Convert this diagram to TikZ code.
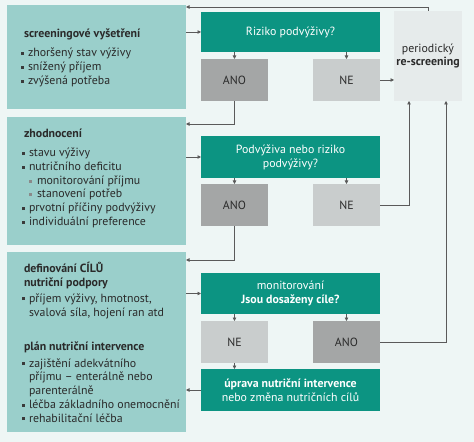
\documentclass[tikz,border=0pt]{standalone}
\usepackage{fontspec}
\setmainfont{PT Sans}
\usetikzlibrary{arrows.meta}
\definecolor{bgc}{HTML}{EEF6F5}
\definecolor{lteal}{HTML}{9ACFCB}
\definecolor{dteal}{HTML}{0C9482}
\definecolor{anoc}{HTML}{A4A6A6}
\definecolor{nec}{HTML}{C9CDCD}
\definecolor{resc}{HTML}{E6EBEB}
\definecolor{txtc}{HTML}{2A2A2A}
\definecolor{linec}{HTML}{5A5A5A}
\definecolor{bulc}{HTML}{3A3A3A}
\definecolor{sbulc}{HTML}{8A8A8A}
\newcommand{\bul}{\makebox[7bp][l]{\textcolor{bulc}{\rule[0.15em]{2.8bp}{2.8bp}}}}
\newcommand{\sbul}{\hspace*{7bp}\makebox[8bp][l]{\textcolor{sbulc}{\rule[0.15em]{2.8bp}{2.8bp}}}}
\newcommand{\cnt}{\hspace*{7bp}}
\newcommand{\fs}{\fontsize{11.9}{14}\selectfont}
\tikzset{
  every node/.style={inner sep=0pt, outer sep=0pt},
  leftbox/.style={fill=lteal, minimum width=179bp},
  tealbox/.style={fill=dteal, minimum width=179bp, text=white, align=center, font=\fs},
  anobox/.style={fill=anoc, minimum width=67bp, minimum height=42bp, text=txtc, font=\fs},
  nebox/.style={fill=nec, minimum width=67bp, minimum height=42bp, text=txtc, font=\fs},
  ltxt/.style={anchor=base west, text=txtc, font=\fs},
  lhead/.style={ltxt, font=\fs\bfseries},
  arr/.style={draw=linec, line width=0.7pt, -{Triangle[length=3.5bp,width=3.5bp]}},
}
\begin{document}
\begin{tikzpicture}[x=1bp,y=-1bp]
\fill[bgc] (0,0) rectangle (474,442);
\useasboundingbox (0,0) rectangle (474,442);
% left boxes
\node[leftbox, minimum height=104bp] (b1) at (96.5,57) {};
\node[leftbox, minimum height=128bp] (b2) at (96.5,181) {};
\node[leftbox, minimum height=180bp] (b3) at (96.5,342) {};
% box 1 text
\node[lhead] (h1) at (24,38) {screeningové vyšetření};
\node[ltxt] (l11) at (21,57) {\bul zhoršený stav výživy};
\node[ltxt] (l12) at (21,71) {\bul snížený příjem};
\node[ltxt] (l13) at (21,85) {\bul zvýšená potřeba};
% box 2 text
\node[lhead] (h2) at (24,138) {zhodnocení};
\node[ltxt] (l21) at (22,157) {\bul stavu výživy};
\node[ltxt] (l22) at (22,170.5) {\bul nutričního deficitu};
\node[ltxt] (l23) at (22,184.5) {\sbul monitorování příjmu};
\node[ltxt] (l24) at (22,198) {\sbul stanovení potřeb};
\node[ltxt] (l25) at (22,212) {\bul prvotní příčiny podvýživy};
\node[ltxt] (l26) at (22,226) {\bul individuální preference};
% box 3 text
\node[lhead] (h31) at (24,272) {definování CÍLŮ};
\node[lhead] (h32) at (24,286) {nutriční podpory};
\node[ltxt] (l31) at (22,302) {\bul příjem výživy, hmotnost,};
\node[ltxt] (l32) at (22,316) {\cnt svalová síla, hojení ran atd};
\node[lhead] (h33) at (24,350) {plán nutriční intervence};
\node[ltxt] (l33) at (22,367) {\bul zajištění adekvátního};
\node[ltxt] (l34) at (22,380.5) {\cnt příjmu – enterálně nebo};
\node[ltxt] (l35) at (22,394) {\cnt parenterálně};
\node[ltxt] (l36) at (22,408.5) {\bul léčba základního onemocnění};
\node[ltxt] (l37) at (22,422) {\bul rehabilitační léčba};
% right column
\node[tealbox, minimum height=40bp] (t1) at (290.5,32) {Riziko podvýživy?};
\node[anobox] (a1) at (234.5,80) {ANO};
\node[nebox] (n1) at (346.5,80) {NE};
\node[fill=resc, minimum width=68bp, minimum height=90bp, align=center, text=txtc, font=\fontsize{11.9}{13.5}\selectfont] (r) at (428,56) {periodický\\\textbf{re-screening}};
\node[tealbox, minimum height=42bp] (t2) at (290.5,157) {Podvýživa nebo riziko\\podvýživy?};
\node[anobox] (a2) at (234.5,205) {ANO};
\node[nebox] (n2) at (346.5,205) {NE};
\node[tealbox, minimum height=41bp] (t3) at (290.5,293.5) {monitorování\\\textbf{Jsou dosaženy cíle?}};
\node[nebox] (n3) at (234.5,342) {NE};
\node[anobox] (a3) at (346.5,342) {ANO};
\node[tealbox, minimum height=42bp] (t4) at (290.5,390) {\textbf{úprava nutriční intervence}\\nebo změna nutričních cílů};
% helper coordinates
\coordinate (rtop) at (428,7);
\coordinate (b1in) at (186,7);
\coordinate (a1c) at (234.5,124);
\coordinate (a2c) at (234.5,260);
\coordinate (rin1) at (409,101);
\coordinate (rin2) at (446,101);
% connectors
\draw[arr] (r.north) -- (rtop) -- (b1in);
\draw[arr] (b1.east |- t1) -- (t1.west);
\draw[arr] (t1.south -| a1) -- (a1.north);
\draw[arr] (t1.south -| n1) -- (n1.north);
\draw[arr] (n1.east) -- (r.west |- n1);
\draw[arr] (a1.south) -- (a1c) -- (b2.east |- a1c);
\draw[arr] (b2.east |- t2) -- (t2.west);
\draw[arr] (t2.south -| a2) -- (a2.north);
\draw[arr] (t2.south -| n2) -- (n2.north);
\draw[arr] (n2.east) -| (rin1);
\draw[arr] (a2.south) -- (a2c) -- (b3.east |- a2c);
\draw[arr] (b3.east |- t3) -- (t3.west);
\draw[arr] (t3.south -| n3) -- (n3.north);
\draw[arr] (t3.south -| a3) -- (a3.north);
\draw[arr] (a3.east) -| (rin2);
\draw[arr] (n3.south) -- (t4.north -| n3);
\draw[arr] (t4.west) -- (b3.east |- t4);
\end{tikzpicture}
\end{document}
